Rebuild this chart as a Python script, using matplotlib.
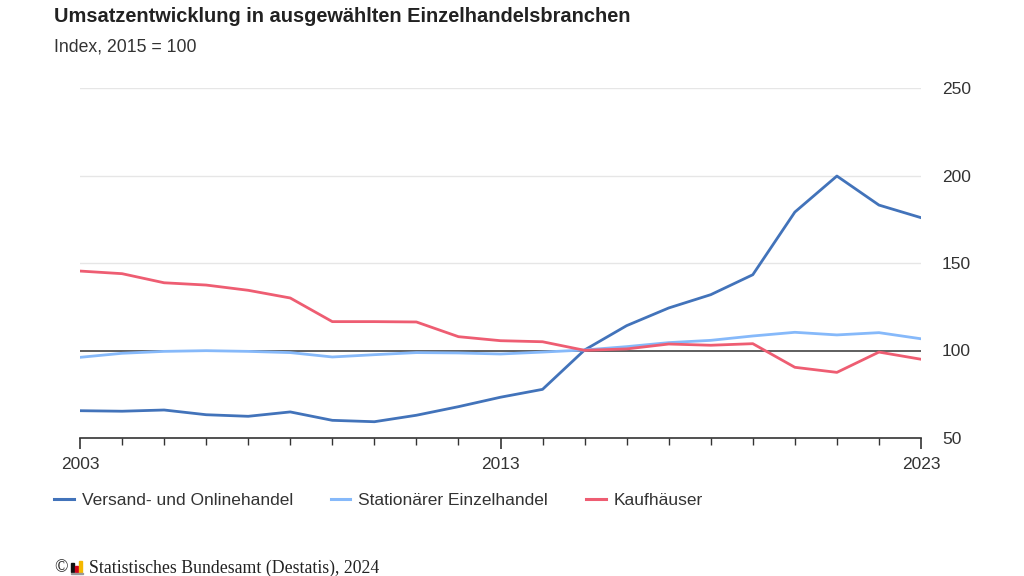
import matplotlib.pyplot as plt
from matplotlib.lines import Line2D
from matplotlib.patches import Rectangle

plt.rcParams['font.family'] = ['Liberation Sans', 'DejaVu Sans']

years = list(range(2003, 2024))
online = [65.6, 65.3, 66.0, 63.3, 62.4, 64.9, 60.1, 59.3, 63.0, 67.9, 73.3,
          77.8, 100.3, 114.2, 124.3, 131.9, 143.3, 179.1, 199.7, 183.1, 175.9]
stationaer = [96.1, 98.4, 99.5, 99.9, 99.5, 98.8, 96.3, 97.6, 98.8, 98.6, 98.0,
              99.1, 100.3, 102.2, 104.5, 105.8, 108.3, 110.4, 108.9, 110.2, 106.7]
kaufhaeuser = [145.4, 143.9, 138.7, 137.4, 134.4, 130.0, 116.5, 116.5, 116.3, 107.9, 105.6,
               105.0, 100.1, 100.9, 103.7, 103.0, 103.9, 90.4, 87.5, 99.1, 95.0]
series_names = ['Versand- und Onlinehandel', 'Stationärer Einzelhandel', 'Kaufhäuser']
colors = ['#4273BA', '#86B9FA', '#EE5D72']
yticks = [50, 100, 150, 200, 250]
xlabels = [2003, 2013, 2023]

fig = plt.figure(figsize=(10.24, 5.76), dpi=100)
ax = fig.add_axes([80 / 1024, 1 - 438 / 576, 841 / 1024, 350 / 576])

for y in yticks[2:]:
    ax.axhline(y, color='#e6e6e6', lw=1, zorder=1)
ax.axhline(100, color='#333333', lw=1.1, zorder=2)

for vals, name, c in zip([online, stationaer, kaufhaeuser], series_names, colors):
    ax.plot(years, vals, color=c, lw=2.0, label=name, zorder=3, solid_joinstyle='round')

ax.set_xlim(2003, 2023)
ax.set_ylim(50, 250)
ax.yaxis.tick_right()
ax.set_yticks(yticks)
ax.set_yticklabels([str(v) for v in yticks], fontsize=12.5, color='#333333')
ax.tick_params(axis='y', length=0, pad=15)
ax.set_xticks(xlabels)
ax.set_xticklabels([str(v) for v in xlabels], fontsize=12.5, color='#333333')
ax.set_xticks(years, minor=True)
ax.tick_params(axis='x', which='major', length=8, width=1.2, color='#333333', pad=6)
ax.tick_params(axis='x', which='minor', length=5, width=1, color='#333333')
for s in ['top', 'left', 'right']:
    ax.spines[s].set_visible(False)
ax.spines['bottom'].set_color('#333333')
ax.spines['bottom'].set_linewidth(1.2)

fig.text(54 / 1024, 1 - 17 / 576, 'Umsatzentwicklung in ausgewählten Einzelhandelsbranchen',
         fontsize=14.4, fontweight='bold', color='#222222', va='center')
fig.text(54 / 1024, 1 - 47 / 576, 'Index, 2015 = 100', fontsize=12.7, color='#333333', va='center')

handles = [Line2D([], [], color=c, lw=2.2) for c in colors]
fig.legend(handles, series_names, loc='center left', bbox_to_anchor=(54 / 1024, 1 - 500 / 576),
           ncol=3, frameon=False, fontsize=12.5, handlelength=1.15, handletextpad=0.46,
           columnspacing=2.15, borderpad=0, borderaxespad=0, labelcolor='#333333')

# footer with small logo
fig.text(54 / 1024, 1 - 568 / 576, '©', fontsize=12.8, family='Liberation Serif', color='#222222', va='center')
lx, ly = 71 / 1024, 1 - 574 / 576
for i, (h, c) in enumerate([(9, '#111111'), (6, '#d0021b'), (11, '#f5b800')]):
    fig.patches.append(Rectangle((lx + i * 4 / 1024, ly + 2 / 576), 2.5 / 1024, h / 576,
                                 transform=fig.transFigure, color=c))
fig.patches.append(Rectangle((lx, ly), 12 / 1024, 1.5 / 576, transform=fig.transFigure, color='#999999'))
fig.text(89 / 1024, 1 - 568 / 576, 'Statistisches Bundesamt (Destatis), 2024', fontsize=12.8,
         family='Liberation Serif', color='#222222', va='center')

fig.savefig('out.png', dpi=100)
